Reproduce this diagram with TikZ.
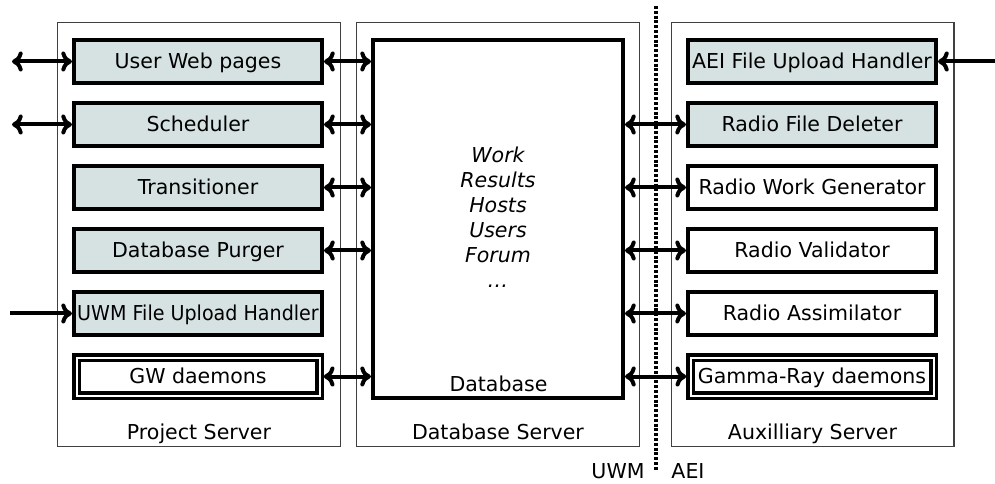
\documentclass[tikz,border=0pt]{standalone}
\usepackage{fontspec}
\setmainfont{DejaVu Sans}
\usetikzlibrary{arrows.meta}
\definecolor{procfill}{HTML}{D6E2E2}

\begin{document}
\begin{tikzpicture}[x=0.75pt, y=-0.75pt,
    every node/.style={font=\fontsize{15.4pt}{18.75pt}\selectfont},
    entry/.style={font=\fontsize{15.4pt}{18.75pt}\selectfont\itshape, anchor=base},
    server/.style={draw=black!75, line width=1pt, minimum width=212pt, minimum height=318pt, inner sep=0pt},
    proc/.style={draw, line width=3pt, minimum width=186pt, minimum height=32.25pt, inner sep=0pt, text height=11.2pt, text depth=0pt},
    shaded/.style={proc, fill=procfill},
    daemons/.style={proc, line width=2.4pt, double=white, double distance=1.5pt, minimum width=182.25pt, minimum height=28.5pt, outer sep=3.2pt},
    link/.style={line width=3pt, {To[length=8pt,width=15pt]}-{To[length=8pt,width=15pt]}},
    feed/.style={line width=3pt, -{To[length=8pt,width=15pt]}},
    border/.style={line width=2.4pt, dash pattern=on 2.2pt off 1.4pt}
]
    \useasboundingbox (0,0) rectangle (995,484);

    \node[server] (project) at (199,234.5) {};
    \node[server] (dbserver) at (498,234.5) {};
    \node[server] (aux) at (812.5,234.5) {};
    \node[anchor=base] (projectlabel) at (199,439) {Project Server};
    \node[anchor=base] (dbserverlabel) at (498,439) {Database Server};
    \node[anchor=base] (auxlabel) at (812.5,439) {Auxilliary Server};

    \node[shaded] (web) at (198,61.5) {User Web pages};
    \node[shaded] (sched) at (198,124.5) {Scheduler};
    \node[shaded] (trans) at (198,187.5) {Transitioner};
    \node[shaded] (purger) at (198,250.5) {Database Purger};
    \node[shaded] (uwmupl) at (198,313.5) {\scalebox{0.93}[1]{UWM File Upload Handler}};
    \node[daemons] (gw) at (198,376.5) {GW daemons};

    \node[proc, minimum width=187.5pt, minimum height=268.5pt] (db) at (498,219) {};
    \node[entry] (work) at (498,163) {Work};
    \node[entry] (results) at (498,188) {Results};
    \node[entry] (hosts) at (498,213) {Hosts};
    \node[entry] (users) at (498,238) {Users};
    \node[entry] (forum) at (498,263) {Forum};
    \node[entry] (more) at (498,288) {\ldots};
    \node[anchor=base] (dblabel) at (498.5,391) {Database};

    \node[shaded] (aeiupl) at (812,61.5) {AEI File Upload Handler};
    \node[shaded] (deleter) at (812,124.5) {Radio File Deleter};
    \node[proc] (workgen) at (812,187.5) {Radio Work Generator};
    \node[proc] (validator) at (812,250.5) {Radio Validator};
    \node[proc] (assim) at (812,313.5) {Radio Assimilator};
    \node[daemons] (gamma) at (812,376.5) {Gamma-Ray daemons};

    \coordinate (webout) at (12,61.5);
    \coordinate (schedout) at (12,124.5);
    \coordinate (uwmout) at (10,313.5);
    \coordinate (aeiout) at (995,61.5);
    \draw[link] (webout) -- (web.west);
    \draw[link] (schedout) -- (sched.west);
    \draw[feed] (uwmout) -- (uwmupl.west);
    \draw[feed] (aeiout) -- (aeiupl.east);

    \draw[link] (web.east) -- (web.east -| db.west);
    \draw[link] (sched.east) -- (sched.east -| db.west);
    \draw[link] (trans.east) -- (trans.east -| db.west);
    \draw[link] (purger.east) -- (purger.east -| db.west);
    \draw[link] (gw.east) -- (gw.east -| db.west);

    \draw[link] (deleter.west -| db.east) -- (deleter.west);
    \draw[link] (workgen.west -| db.east) -- (workgen.west);
    \draw[link] (validator.west -| db.east) -- (validator.west);
    \draw[link] (assim.west -| db.east) -- (assim.west);
    \draw[link] (gamma.west -| db.east) -- (gamma.west);

    \coordinate (splittop) at (656,6);
    \coordinate (splitbottom) at (656,470);
    \draw[border] (splittop) -- (splitbottom);
    \node[anchor=base] (uwm) at (618,478) {UWM};
    \node[anchor=base] (aei) at (688,478) {AEI};
\end{tikzpicture}
\end{document}
